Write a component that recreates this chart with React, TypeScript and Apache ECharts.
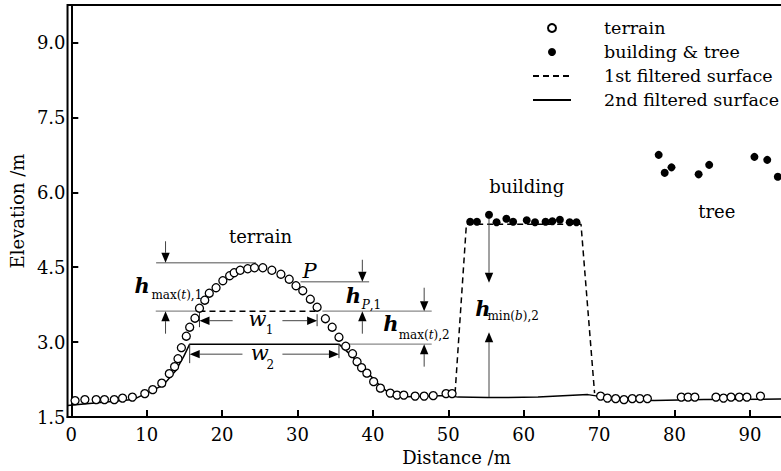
import { useEffect, useRef } from 'react';
import * as echarts from 'echarts';

const FONT = '"DejaVu Serif", "Liberation Serif", serif';

// axis ticks
const xTicks = [0, 10, 20, 30, 40, 50, 60, 70, 80, 90];
const yTicks = [1.5, 3.0, 4.5, 6.0, 7.5, 9.0];

// terrain points (open circles)
const terrainX = [0.5, 1.8, 3.3, 4.4, 5.7, 6.8, 8.1, 9.75, 10.8, 12.0, 13.0, 13.7, 14.15, 14.6, 15.25, 15.7, 16.4, 17.0, 17.7, 18.3, 19.2, 20.1, 21.0, 21.6, 22.4, 23.4, 24.3, 25.4, 26.6, 27.8, 28.9, 29.8, 30.7, 31.7, 32.6, 33.7, 34.6, 35.5, 36.4, 37.3, 37.9, 38.5, 39.2, 40.1, 41.0, 42.3, 43.2, 44.1, 45.6, 46.8, 48.0, 49.7, 50.5, 70.2, 71.1, 72.2, 73.3, 74.4, 75.4, 76.4, 80.9, 81.8, 82.7, 85.5, 86.5, 87.5, 88.6, 89.6, 91.4];
const terrainY = [1.83, 1.85, 1.85, 1.85, 1.85, 1.88, 1.90, 1.97, 2.05, 2.18, 2.37, 2.51, 2.67, 2.89, 3.12, 3.30, 3.48, 3.68, 3.84, 3.98, 4.09, 4.23, 4.33, 4.39, 4.44, 4.47, 4.49, 4.49, 4.44, 4.36, 4.26, 4.13, 4.03, 3.86, 3.70, 3.47, 3.30, 3.10, 2.92, 2.77, 2.61, 2.49, 2.38, 2.21, 2.08, 1.98, 1.94, 1.94, 1.92, 1.92, 1.93, 1.97, 1.97, 1.92, 1.88, 1.87, 1.85, 1.87, 1.87, 1.87, 1.90, 1.90, 1.90, 1.90, 1.88, 1.90, 1.90, 1.90, 1.92];

// building & tree points (filled)
const buildingX = [52.9, 53.8, 55.4, 56.4, 57.7, 58.6, 60.4, 61.5, 62.9, 63.8, 64.8, 66.1, 67.0];
const buildingY = [5.41, 5.41, 5.55, 5.40, 5.47, 5.41, 5.44, 5.40, 5.41, 5.42, 5.45, 5.40, 5.40];
const treeX = [77.9, 78.7, 79.6, 83.2, 84.6, 90.6, 92.3, 93.7];
const treeY = [6.75, 6.39, 6.50, 6.36, 6.55, 6.71, 6.65, 6.31];

// 1st filtered surface (dashed), visible parts
const surface1HillX = [17.0, 32.6];
const surface1HillY = [3.62, 3.62];
const surface1BuildingX = [50.9, 52.4, 67.6, 69.4];
const surface1BuildingY = [1.98, 5.36, 5.36, 1.98];

// 2nd filtered surface (solid)
const surface2X = [-0.5, 8.2, 10.0, 12.2, 13.9, 14.9, 15.7, 35.5, 37.3, 39.0, 40.8, 41.9, 43.4, 50.0, 51.3, 55.2, 61.9, 68.5, 69.8, 71.1, 77.3, 83.9, 94.0, 100];
const surface2Y = [1.73, 1.85, 1.98, 2.14, 2.44, 2.71, 2.96, 2.96, 2.71, 2.44, 2.15, 2.01, 1.90, 1.93, 1.90, 1.89, 1.90, 1.95, 1.92, 1.85, 1.83, 1.85, 1.86, 1.86];

// annotation reference lines [x1, y1, x2, y2]
const refLines: number[][] = [
  [11.25, 4.59, 24.5, 4.59],
  [11.2, 3.62, 17.0, 3.62],
  [33.3, 3.62, 47.8, 3.62],
  [30.4, 4.21, 39.5, 4.21],
  [36.8, 2.96, 47.8, 2.96],
];
// arrows [x1, y1, x2(tip), y2(tip)]
const arrows: number[][] = [
  [12.5, 5.02, 12.5, 4.59],
  [12.5, 3.17, 12.5, 3.62],
  [38.6, 4.65, 38.6, 4.21],
  [38.6, 3.17, 38.6, 3.62],
  [46.8, 4.09, 46.8, 3.62],
  [46.8, 2.51, 46.8, 2.96],
  [55.4, 5.55, 55.4, 4.19],
  [55.4, 1.90, 55.4, 3.20],
  [21.4, 3.43, 17.0, 3.43],
  [28.0, 3.43, 32.6, 3.43],
  [22.7, 2.76, 15.7, 2.76],
  [28.0, 2.76, 35.5, 2.76],
];
// end bars of width arrows
const endBars: number[][] = [
  [17.0, 3.62, 17.0, 3.30],
  [32.6, 3.56, 32.6, 3.32],
  [15.7, 2.96, 15.7, 2.58],
  [35.5, 2.96, 35.5, 2.68],
];

// text annotations [text, x, y]
const plainLabels: [string, number, number][] = [
  ['terrain', 25.1, 5.12],
  ['building', 60.4, 6.11],
  ['tree', 85.6, 5.62],
];
const italicLabels: [string, number, number][] = [
  ['P', 31.6, 4.43],
  ['w', 24.7, 3.46],
  ['w', 25.0, 2.79],
];
const hLabels: [string, number, number][] = [
  ['h', 9.4, 4.13],
  ['h', 37.4, 3.94],
  ['h', 42.4, 3.38],
  ['h', 54.6, 3.68],
];
const subLabels: [string, number, number][] = [
  ['max({i|t}),1', 14.0, 3.95],
  ['{i|P},1', 39.8, 3.75],
  ['max({i|t}),2', 46.8, 3.15],
  ['min({i|b}),2', 58.6, 3.52],
  ['1', 26.3, 3.24],
  ['2', 26.4, 2.55],
];

const zip = (xs: number[], ys: number[]) => xs.map((x, i) => [x, ys[i]]);

function segSeries(name: string, segs: number[][], color: string, width: number, arrow: boolean) {
  return {
    type: 'custom',
    name,
    silent: true,
    z: 4,
    data: segs,
    encode: { x: [0, 2], y: [1, 3] },
    renderItem: (_params: any, api: any) => {
      const p1 = api.coord([api.value(0), api.value(1)]);
      const p2 = api.coord([api.value(2), api.value(3)]);
      if (!arrow) {
        return {
          type: 'line',
          shape: { x1: p1[0], y1: p1[1], x2: p2[0], y2: p2[1] },
          style: { stroke: color, lineWidth: width },
        };
      }
      const dx = p2[0] - p1[0];
      const dy = p2[1] - p1[1];
      const len = Math.hypot(dx, dy) || 1;
      const ux = dx / len;
      const uy = dy / len;
      const L = 10;
      const W = 4.2;
      const bx = p2[0] - ux * L;
      const by = p2[1] - uy * L;
      return {
        type: 'group',
        children: [
          {
            type: 'line',
            shape: { x1: p1[0], y1: p1[1], x2: bx, y2: by },
            style: { stroke: color, lineWidth: width },
          },
          {
            type: 'polygon',
            shape: { points: [[p2[0], p2[1]], [bx - uy * W, by + ux * W], [bx + uy * W, by - ux * W]] },
            style: { fill: '#000' },
          },
        ],
      };
    },
  };
}

function textSeries(name: string, items: [string, number, number][], style: any) {
  return {
    type: 'custom',
    name,
    silent: true,
    z: 6,
    data: items.map((d) => [d[1], d[2]]),
    encode: { x: 0, y: 1 },
    renderItem: (params: any, api: any) => {
      const p = api.coord([api.value(0), api.value(1)]);
      return {
        type: 'text',
        x: p[0],
        y: p[1],
        style: { text: items[params.dataIndex][0], fill: '#000', align: 'center', verticalAlign: 'middle', fontFamily: FONT, ...style },
      };
    },
  };
}

export default function App() {
  const ref = useRef<HTMLDivElement>(null);
  useEffect(() => {
    if (!ref.current) return;
    const chart = echarts.init(ref.current, null, { renderer: 'svg' });
    const option: any = {
      animation: false,
      backgroundColor: '#fff',
      grid: { left: 64, top: 5, width: 761.3, height: 416, show: true, borderColor: '#000', borderWidth: 2, backgroundColor: 'transparent' },
      legend: {
        orient: 'vertical',
        left: 527,
        top: 14,
        itemWidth: 38,
        itemHeight: 8,
        itemGap: 6,
        data: [
          { name: 'terrain' },
          { name: 'building & tree' },
          { name: '1st filtered surface', itemStyle: { opacity: 0 } },
          { name: '2nd filtered surface', itemStyle: { opacity: 0 } },
        ],
        textStyle: { fontFamily: FONT, fontSize: 17.5, color: '#000', padding: [0, 0, 0, 28] },
      },
      xAxis: {
        type: 'value',
        min: -0.5,
        max: 100,
        name: 'Distance /m',
        nameLocation: 'middle',
        nameGap: 25,
        nameTextStyle: { fontFamily: FONT, fontSize: 18, color: '#000', padding: [0, 0, 0, 20] },
        axisLine: { lineStyle: { color: '#000', width: 2 } },
        axisTick: { inside: true, length: 7, lineStyle: { color: '#000', width: 2 }, customValues: xTicks },
        axisLabel: { fontFamily: FONT, fontSize: 18, color: '#000', margin: 8, customValues: xTicks, formatter: (v: number) => String(v) },
        splitLine: { show: false },
      },
      yAxis: {
        type: 'value',
        min: 1.5,
        max: 9.75,
        name: 'Elevation /m',
        nameLocation: 'middle',
        nameGap: 37,
        nameTextStyle: { fontFamily: FONT, fontSize: 18, color: '#000' },
        axisLine: { lineStyle: { color: '#000', width: 2 } },
        axisTick: { inside: true, length: 7, lineStyle: { color: '#000', width: 2 }, customValues: yTicks },
        axisLabel: { fontFamily: FONT, fontSize: 18, color: '#000', margin: 2, customValues: yTicks, formatter: (v: number) => v.toFixed(1) },
        splitLine: { show: false },
      },
      series: [
        segSeries('refLines', refLines, '#8a8a8a', 1.3, false),
        segSeries('endBars', endBars, '#333', 1, false),
        segSeries('arrows', arrows, '#444', 1, true),
        {
          type: 'line',
          name: '1st filtered surface',
          data: zip(surface1HillX, surface1HillY),
          symbol: 'none',
          color: '#000',
          lineStyle: { color: '#000', width: 1.5, type: [6, 4] },
          z: 3,
        },
        {
          type: 'line',
          name: '1st filtered surface',
          data: zip(surface1BuildingX, surface1BuildingY),
          symbol: 'none',
          color: '#000',
          lineStyle: { color: '#000', width: 1.5, type: [6, 4] },
          z: 3,
        },
        {
          type: 'line',
          name: '2nd filtered surface',
          data: zip(surface2X, surface2Y),
          symbol: 'none',
          color: '#000',
          lineStyle: { color: '#000', width: 1.5 },
          z: 3,
        },
        {
          type: 'scatter',
          name: 'terrain',
          data: zip(terrainX, terrainY),
          symbol: 'circle',
          symbolSize: 8,
          itemStyle: { color: '#fff', borderColor: '#000', borderWidth: 1.3, opacity: 1 },
          z: 5,
        },
        {
          type: 'scatter',
          name: 'building & tree',
          data: [...zip(buildingX, buildingY), ...zip(treeX, treeY)],
          symbol: 'circle',
          symbolSize: 8,
          itemStyle: { color: '#000', opacity: 1 },
          z: 5,
        },
        textSeries('plainLabels', plainLabels, { fontSize: 18 }),
        textSeries('italicLabels', italicLabels, { fontSize: 21, fontStyle: 'italic' }),
        textSeries('hLabels', hLabels, { fontSize: 21, fontStyle: 'italic', fontWeight: 'bold' }),
        textSeries('subLabels', subLabels, {
          fontSize: 12,
          rich: { i: { fontSize: 12, fontStyle: 'italic', fontFamily: FONT } },
        }),
      ],
    };
    chart.setOption(option);
    return () => chart.dispose();
  }, []);
  return (
    <div style={{ position: 'fixed', left: 0, top: 0, width: 781, height: 471, overflow: 'hidden', background: '#fff' }}>
      <div ref={ref} style={{ width: 900, height: 471 }} />
    </div>
  );
}
